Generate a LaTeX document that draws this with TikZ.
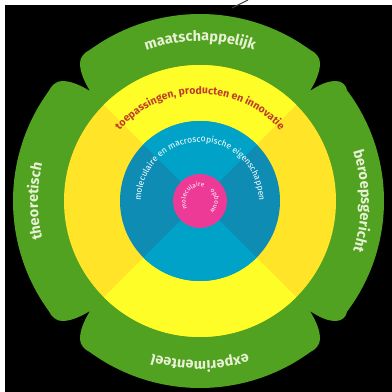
\documentclass[tikz,border=0pt]{standalone}
\usepackage{fontspec}
\setmainfont{Fira Sans}
\usetikzlibrary{decorations.text}
\definecolor{flowergreen}{RGB}{80,162,32}
\definecolor{yelmain}{RGB}{255,253,40}
\definecolor{yelside}{RGB}{255,228,40}
\definecolor{bluemain}{RGB}{0,163,199}
\definecolor{blueside}{RGB}{14,140,180}
\definecolor{pinkc}{RGB}{236,58,150}
\definecolor{redtext}{RGB}{190,60,40}
\definecolor{palegreen}{RGB}{232,241,212}
\definecolor{darkline}{RGB}{60,60,60}
\tikzset{
  arctext/.style={decorate,decoration={text along path,text align=center,text={#1}}}
}
\begin{document}
\begin{tikzpicture}[x=1pt,y=1pt]
\useasboundingbox (0,0) rectangle (392,392);
\fill[white] (0,0) rectangle (392,392);
\fill[black] (5,0) rectangle (392,387);
\coordinate (l1) at (232,384);
\coordinate (l2) at (248,392);
\draw[darkline,line width=0.9pt] (l1) -- (l2);
\begin{scope}[shift={(200,191)}]
 \fill[flowergreen] (-110,110)
 .. controls (-116,120) and (-120,129) .. (-120,138)
 .. controls (-120,144) and (-115.4,148.6) .. (126:187pt)
 arc[start angle=126,end angle=54,radius=187pt]
 .. controls (115.4,148.6) and (120,144) .. (120,138)
 .. controls (120,129) and (116,120) .. (110,110)
 .. controls (119,116) and (127,120) .. (136,120)
 .. controls (142,120) and (146.6,115.4) .. (37:184pt)
 arc[start angle=37,end angle=-37,radius=184pt]
 .. controls (146.6,-115.4) and (142,-120) .. (136,-120)
 .. controls (127,-120) and (119,-116) .. (110,-110)
 .. controls (116,-120) and (120,-129) .. (120,-138)
 .. controls (120,-144) and (115.4,-148.6) .. (-54:187pt)
 arc[start angle=-54,end angle=-126,radius=187pt]
 .. controls (-115.4,-148.6) and (-120,-144) .. (-120,-138)
 .. controls (-120,-129) and (-116,-120) .. (-110,-110)
 .. controls (-120,-116) and (-129,-120) .. (-138,-120)
 .. controls (-144,-120) and (-148.6,-115.4) .. (-144:187pt)
 arc[start angle=-144,end angle=-216,radius=187pt]
 .. controls (-148.6,115.4) and (-144,120) .. (-138,120)
 .. controls (-129,120) and (-120,116) .. (-110,110) -- cycle;
 % yellow ring
 \fill[yelside] (0,0) circle[radius=136pt];
 \fill[yelmain] (0,0) -- (45:136pt) arc[start angle=45,end angle=135,radius=136pt] -- cycle;
 \fill[yelmain] (0,0) -- (225:136pt) arc[start angle=225,end angle=315,radius=136pt] -- cycle;
 % blue disc
 \fill[blueside] (0,0) circle[radius=80pt];
 \fill[bluemain] (0,0) -- (45:80pt) arc[start angle=45,end angle=135,radius=80pt] -- cycle;
 \fill[bluemain] (0,0) -- (225:80pt) arc[start angle=225,end angle=315,radius=80pt] -- cycle;
 % pink core
 \fill[pinkc] (0,0) circle[radius=27pt];
 % texts on green
 \path[arctext={|\fontsize{14.5}{14.5}\selectfont\bfseries\color{palegreen}|maatschappelijk}] (150:160pt) arc[start angle=150,end angle=30,radius=160pt];
 \path[arctext={|\fontsize{14.5}{14.5}\selectfont\bfseries\color{palegreen}|beroepsgericht}] (60:161pt) arc[start angle=60,end angle=-60,radius=161pt];
 \path[arctext={|\fontsize{14.5}{14.5}\selectfont\bfseries\color{palegreen}|experimenteel}] (-30:160pt) arc[start angle=-30,end angle=-150,radius=160pt];
 \path[arctext={|\fontsize{14.5}{14.5}\selectfont\bfseries\color{palegreen}|theoretisch}] (240:162pt) arc[start angle=240,end angle=120,radius=162pt];
 % text on yellow
 \path[arctext={|\fontsize{10.5}{10.5}\selectfont\bfseries\color{redtext}|toepassingen, producten en innovatie}] (170:107pt) arc[start angle=170,end angle=10,radius=107pt];
 % text on blue
 \path[arctext={|\fontsize{8.6}{8.6}\selectfont\color{white}|moleculaire en macroscopische eigenschappen}] (200:59pt) arc[start angle=200,end angle=-20,radius=59pt];
 % text on pink
 \path[arctext={|\fontsize{6.4}{6.4}\selectfont\color{white}|moleculaire}] (232:14.5pt) arc[start angle=232,end angle=52,radius=14.5pt];
 \path[arctext={|\fontsize{6.4}{6.4}\selectfont\color{white}|opbouw}] (75:14.5pt) arc[start angle=75,end angle=-75,radius=14.5pt];
\end{scope}
\end{tikzpicture}
\end{document}
